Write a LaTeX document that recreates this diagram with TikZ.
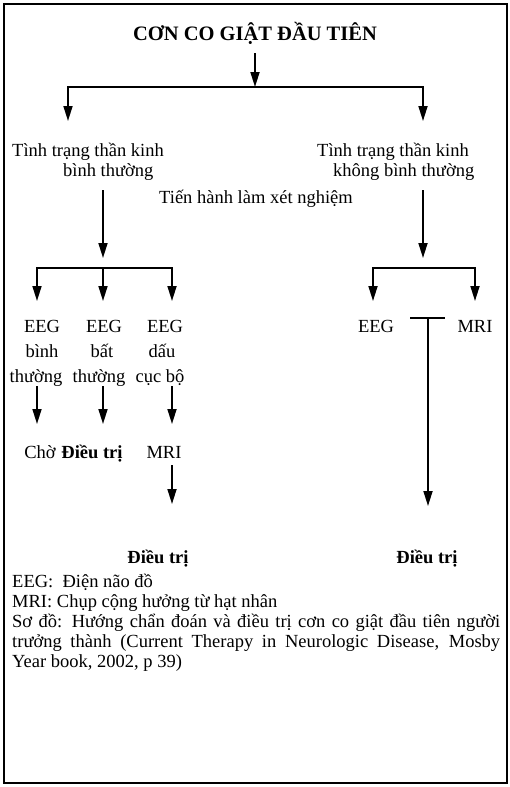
\documentclass[tikz,border=0pt]{standalone}
\usepackage{fontspec}
\setmainfont{Liberation Serif}
\usetikzlibrary{arrows.meta}
\begin{document}
\begin{tikzpicture}[x=1pt,y=-1pt,
  txt/.style={font=\fontsize{18.5}{20}\selectfont, inner sep=0pt, anchor=base},
  btxt/.style={txt, font=\fontsize{18.5}{20}\selectfont\bfseries},
  arr/.style={line width=1.7pt, -{Triangle[length=15pt,width=9pt]}},
  ln/.style={line width=1.7pt}]
\useasboundingbox (0,0) rectangle (510,787);
\draw[line width=1.3pt] (4,4) rectangle (507,783);

% title
\node[btxt, font=\fontsize{20.5}{22}\selectfont\bfseries] (title) at (255,40) {CƠN CO GIẬT ĐẦU TIÊN};
\coordinate (t0) at (255,53);
\coordinate (tj) at (255,87);
\coordinate (la) at (68,121);
\coordinate (ra) at (423,121);
\draw[arr] (t0) -- (tj);
\draw[arr] (tj) -| (la);
\draw[arr] (tj) -| (ra);

% states
\node[txt, anchor=base west] (l1) at (12,156) {Tình trạng thần kinh};
\node[txt, anchor=base west] (l2) at (63,176) {bình thường};
\node[txt, anchor=base west] (r1) at (317,156) {Tình trạng thần kinh};
\node[txt, anchor=base west] (r2) at (333,176) {không bình thường};
\node[txt] (test) at (256,203) {Tiến hành làm xét nghiệm};

% left branch
\coordinate (ls) at (103,190);
\coordinate (le) at (103,258);
\draw[arr] (ls) -- (le);
\coordinate (lb) at (103,268);
\coordinate (c1) at (37,301);
\coordinate (c2) at (103,301);
\coordinate (c3) at (172,301);
\draw[arr] (lb) -| (c1);
\draw[arr] (lb) -| (c3);
\draw[arr] (lb) -- (c2);

\node[txt] (e1) at (42,332) {EEG};
\node[txt] (e2) at (104,332) {EEG};
\node[txt] (e3) at (165,332) {EEG};
\node[txt] (b1) at (42,357) {bình};
\node[txt] (b2) at (102,357) {bất};
\node[txt] (b3) at (162,357) {dấu};
\node[txt] (h1) at (36,382) {thường};
\node[txt] (h2) at (99,382) {thường};
\node[txt] (h3) at (160,382) {cục bộ};

\coordinate (d1s) at (37,386);
\coordinate (d1e) at (37,424);
\coordinate (d2s) at (103,386);
\coordinate (d2e) at (103,424);
\coordinate (d3s) at (172,386);
\coordinate (d3e) at (172,424);
\draw[arr] (d1s) -- (d1e);
\draw[arr] (d2s) -- (d2e);
\draw[arr] (d3s) -- (d3e);

\node[txt] (cho) at (40,458) {Chờ};
\node[btxt] (dt1) at (92,458) {Điều trị};
\node[txt] (mri1) at (164,458) {MRI};

\coordinate (m1s) at (172,465);
\coordinate (m1e) at (172,504);
\draw[arr] (m1s) -- (m1e);

\node[btxt] (dtl) at (158,563) {Điều trị};

% right branch
\coordinate (rs) at (423,190);
\coordinate (re) at (423,258);
\draw[arr] (rs) -- (re);
\coordinate (rb) at (423,268);
\coordinate (rc1) at (373,301);
\coordinate (rc2) at (475,301);
\draw[arr] (rb) -| (rc1);
\draw[arr] (rb) -| (rc2);

\node[txt] (ree) at (376,332) {EEG};
\node[txt] (rmri) at (475,332) {MRI};

\coordinate (ta) at (410,318);
\coordinate (tb) at (445,318);
\coordinate (tm) at (428,318);
\coordinate (te) at (428,506);
\draw[ln] (ta) -- (tb);
\draw[arr] (tm) -- (te);

\node[btxt] (dtr) at (427,563) {Điều trị};

% legend
\node[txt, anchor=base west] (leg1) at (12,587) {EEG:\ \ Điện não đồ};
\node[txt, anchor=base west] (leg2) at (12,607) {MRI: Chụp cộng hưởng từ hạt nhân};
\node[txt, anchor=base west, text width=488pt, align=justify] (leg3) at (12,627)
  {Sơ đồ: Hướng chẩn đoán và điều trị cơn co giật đầu tiên người\linebreak trưởng thành (Current Therapy in Neurologic Disease, Mosby\linebreak Year book, 2002, p 39)};
\end{tikzpicture}
\end{document}
